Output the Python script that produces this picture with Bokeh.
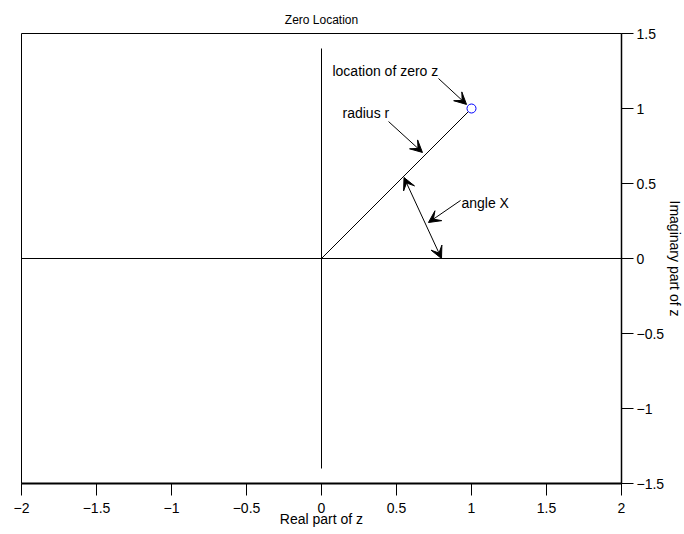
from bokeh.plotting import figure
from bokeh.models import FixedTicker, Arrow, VeeHead, Label, Range1d
from bokeh.embed import file_html
from bokeh.resources import INLINE

FONT = "Liberation Sans"

# axis ranges / ticks
x_ticks = [-2, -1.5, -1, -0.5, 0, 0.5, 1, 1.5, 2]
x_tick_labels = ["−2", "−1.5", "−1", "−0.5", "0", "0.5", "1", "1.5", "2"]
y_ticks = [-1.5, -1, -0.5, 0, 0.5, 1, 1.5]
y_tick_labels = ["−1.5", "−1", "−0.5", "0", "0.5", "1", "1.5"]

# reference axes drawn in the plane
real_axis_x = [-2, 2]
real_axis_y = [0, 0]
imag_axis_x = [0, 0]
imag_axis_y = [-1.4, 1.4]

# zero location and radius
zero_re = [1.0]
zero_im = [1.0]
radius_x = [0, 1]
radius_y = [0, 1]

# annotations
label_texts = ["location of zero z", "radius r", "angle X"]
label_x = [0.073, 0.14, 0.933]
label_y = [1.253, 0.967, 0.373]

arrow_x_start = [0.78, 0.447, 0.927]
arrow_y_start = [1.2, 0.913, 0.387]
arrow_x_end = [0.967, 0.673, 0.713]
arrow_y_end = [1.027, 0.707, 0.24]

angle_arrow_start = (0.55, 0.54)
angle_arrow_end = (0.8, 0.0)

p = figure(frame_width=600, frame_height=450,
           x_range=Range1d(-2, 2), y_range=Range1d(-1.5, 1.5),
           y_axis_location="right",
           output_backend="svg", toolbar_location=None,
           title="Zero Location",
           min_border_left=21, min_border_top=33, min_border_bottom=0, min_border_right=0)

p.background_fill_color = "white"
p.border_fill_color = "white"
p.outline_line_color = "black"
p.outline_line_width = 1
p.grid.visible = False

p.title.text_font = FONT
p.title.text_font_size = "12px"
p.title.text_font_style = "normal"
p.title.text_color = "black"
p.title.align = "center"
p.title.standoff = 14

for ax, ticks, labels in ((p.xaxis[0], x_ticks, x_tick_labels), (p.yaxis[0], y_ticks, y_tick_labels)):
    ax.ticker = FixedTicker(ticks=ticks)
    ax.major_label_overrides = {t: l for t, l in zip(ticks, labels)}
    ax.major_tick_in = 0
    ax.major_tick_out = 12
    ax.minor_tick_line_color = None
    ax.major_label_text_font = FONT
    ax.major_label_text_font_size = "14px"
    ax.major_label_text_color = "black"
    ax.axis_label_text_font = FONT
    ax.axis_label_text_font_size = "14px"
    ax.axis_label_text_font_style = "normal"
    ax.axis_label_text_color = "black"
    ax.axis_line_color = "black"
    ax.major_tick_line_color = "black"

p.xaxis.axis_label = "Real part of z"
p.yaxis.axis_label = "Imaginary part of z"
p.xaxis.major_label_standoff = 7
p.xaxis.axis_label_standoff = -5
p.yaxis.major_label_standoff = 3
p.yaxis.axis_label_standoff = 0
p.xaxis.axis_line_width = 2
p.yaxis.axis_line_width = 1.5

p.line(real_axis_x, real_axis_y, line_color="black", line_width=1)
p.line(imag_axis_x, imag_axis_y, line_color="black", line_width=1)
p.line(radius_x, radius_y, line_color="black", line_width=1)
p.scatter(zero_re, zero_im, size=9, marker="circle", fill_color="white", line_color="blue", line_width=1)

for xs, ys, xe, ye in zip(arrow_x_start, arrow_y_start, arrow_x_end, arrow_y_end):
    p.add_layout(Arrow(x_start=xs, y_start=ys, x_end=xe, y_end=ye,
                       line_color="black", line_width=1,
                       end=VeeHead(size=12, fill_color="black", line_color="black", line_width=1)))

p.add_layout(Arrow(x_start=angle_arrow_start[0], y_start=angle_arrow_start[1],
                   x_end=angle_arrow_end[0], y_end=angle_arrow_end[1],
                   line_color="black", line_width=1,
                   start=VeeHead(size=12, fill_color="black", line_color="black", line_width=1),
                   end=VeeHead(size=12, fill_color="black", line_color="black", line_width=1)))

for t, x, y in zip(label_texts, label_x, label_y):
    p.add_layout(Label(x=x, y=y, text=t, text_font=FONT, text_font_size="14px",
                       text_baseline="middle", text_align="left", text_color="black"))

open("out.html", "w").write(file_html(p, INLINE))
